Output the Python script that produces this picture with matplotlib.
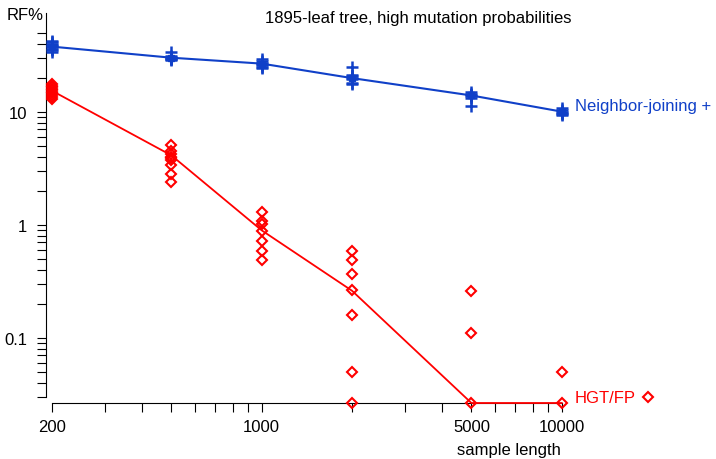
import matplotlib
matplotlib.use("Agg")
import matplotlib.pyplot as plt
import matplotlib.transforms as mtransforms
from matplotlib.ticker import FixedLocator, FixedFormatter, NullFormatter

plt.rcParams['font.family'] = ['Liberation Sans', 'DejaVu Sans']

# sample lengths (x)
lengths = [200, 500, 1000, 2000, 5000, 10000]

# Neighbor-joining: line values and individual runs (RF%)
nj_line = [37.6, 30.0, 26.6, 19.8, 13.9, 10.0]
nj_runs = [
    [34, 35, 36, 37, 38, 39, 40, 41, 42],
    [34, 31, 30.5, 30, 29.5, 29, 28.8],
    [29, 28, 27, 26.5, 26, 25, 24.5],
    [25, 21, 20.5, 20, 19.5, 18, 17.7],
    [14.8, 14.3, 14, 13.7, 13.3, 11.3],
    [10.8, 10.4, 10, 9.8, 9.5, 9.3],
]

# HGT/FP: line values and individual runs (RF%)
hgt_line = [15.3, 4.1, 0.89, 0.26, 0.0264, 0.0264]
hgt_runs = [
    [17.5, 17, 16.5, 16, 15.5, 15, 14.5, 14, 13.5, 13],
    [5.1, 4.5, 4.2, 4.0, 3.9, 3.7, 3.4, 2.8, 2.4],
    [1.29, 1.07, 1.02, 0.87, 0.71, 0.59, 0.49],
    [0.585, 0.483, 0.368, 0.262, 0.16, 0.05, 0.0264],
    [0.26, 0.11, 0.0264],
    [0.05, 0.0264],
]

xticks = [200, 1000, 5000, 10000]
xticklabels = ["200", "1000", "5000", "10000"]
yticks = [0.1, 1, 10]
yticklabels = ["0.1", "1", "10"]

blue = '#1040c8'
red = '#ff0000'

W, H = 716, 460
fig = plt.figure(figsize=(W / 100, H / 100), dpi=100)
ax = fig.add_axes([46 / W, (H - 404) / H, (W - 46) / W, (404 - 14.4) / H])
ax.set_xscale('log')
ax.set_yscale('log')
ax.set_xlim(191.0, 32680)
ax.set_ylim(0.0264, 74)

for x, runs in zip(lengths, nj_runs):
    ax.plot([x] * len(runs), runs, linestyle='none', marker='+', ms=8,
            mew=1.8, color=blue, clip_on=False, zorder=3)
ax.plot(lengths, nj_line, color=blue, lw=1.5, marker='s', ms=5,
        clip_on=False, zorder=4)

for x, runs in zip(lengths, hgt_runs):
    ax.plot([x] * len(runs), runs, linestyle='none', marker='D', ms=5.5,
            mfc='none', mec=red, mew=1.5, clip_on=False, zorder=3)
ax.plot(lengths, hgt_line, color=red, lw=1.3, clip_on=False, zorder=4)

# labels at line ends
ax.annotate("Neighbor-joining +", xy=(lengths[-1], nj_line[-1]),
            xytext=(9.5, 4.3), textcoords='offset points', color=blue,
            fontsize=12, ha='left', va='center')
ax.annotate("HGT/FP", xy=(lengths[-1], hgt_line[-1]),
            xytext=(9.5, 4.3), textcoords='offset points', color=red,
            fontsize=12, ha='left', va='center')
off = mtransforms.offset_copy(ax.transData, fig=fig, x=86 * 0.72, y=4.3,
                              units='points')
ax.plot([lengths[-1]], [hgt_line[-1]], marker='D', ms=5.5, mfc='none',
        mec=red, mew=1.5, transform=off, clip_on=False)

for s in ['top', 'right']:
    ax.spines[s].set_visible(False)
ax.spines['bottom'].set_bounds(200, 10000)
ax.spines['left'].set_bounds(0.03, 74)

minor_x = [m * 10 ** k for k in range(2, 4) for m in range(2, 10)]
minor_x = [v for v in minor_x if 200 < v < 10000 and v not in xticks]
ax.xaxis.set_major_locator(FixedLocator(xticks))
ax.xaxis.set_major_formatter(FixedFormatter(xticklabels))
ax.xaxis.set_minor_locator(FixedLocator(minor_x))
ax.xaxis.set_minor_formatter(NullFormatter())

minor_y = [m * 10 ** k for k in range(-2, 2) for m in range(2, 10)]
minor_y = [v for v in minor_y if 0.029 < v <= 50]
ax.yaxis.set_major_locator(FixedLocator(yticks))
ax.yaxis.set_major_formatter(FixedFormatter(yticklabels))
ax.yaxis.set_minor_locator(FixedLocator(minor_y))
ax.yaxis.set_minor_formatter(NullFormatter())

ax.tick_params(which='both', direction='out', length=6.5, width=0.8,
               labelsize=12)
ax.tick_params(axis='x', which='both', pad=5)
ax.tick_params(axis='y', which='both', pad=7)

fig.text(7 / W, 1 - 16 / H, "RF%", fontsize=12, ha='left', va='center')
fig.text(418 / W, 1 - 18 / H, "1895-leaf tree, high mutation probabilities",
         fontsize=12, ha='center', va='center')
fig.text(509 / W, 1 - 451 / H, "sample length", fontsize=12,
         ha='center', va='center')

fig.savefig("out.png", dpi=100)
